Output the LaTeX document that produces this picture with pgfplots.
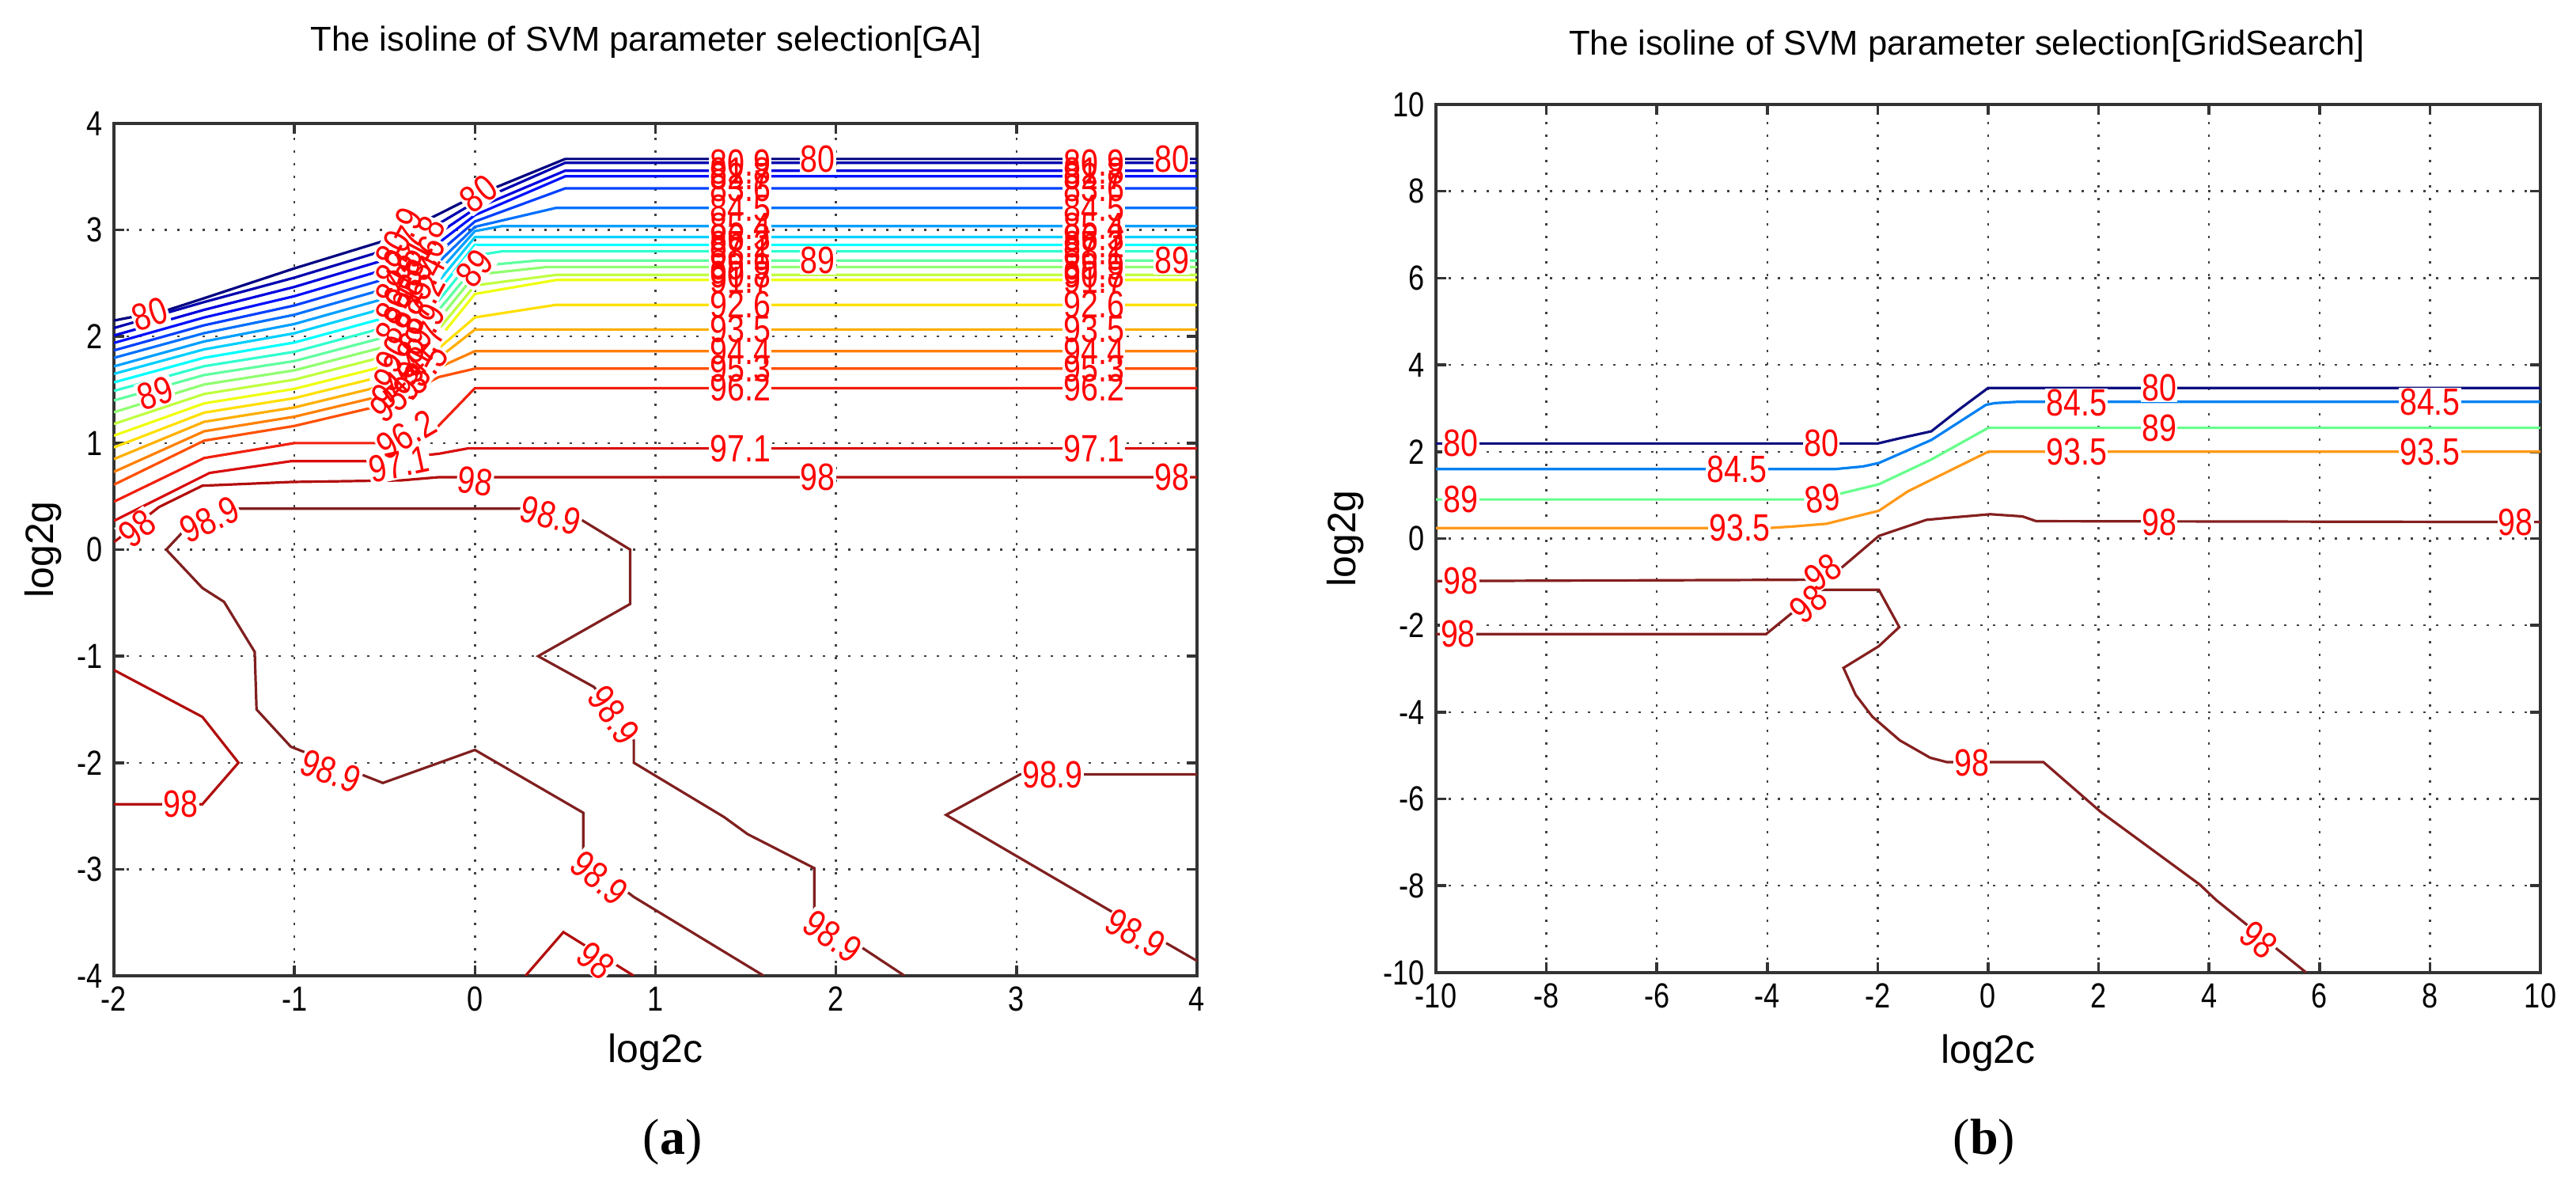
\documentclass[border=0pt]{standalone}
\usepackage{fontspec}
\setmainfont{Liberation Sans}
\newfontfamily\tickfont[FakeStretch=0.82]{Liberation Sans}
\newfontfamily\capfont{Liberation Serif}
\usepackage{pgfplots}
\usepackage{pgfplotstable}
\pgfplotsset{compat=1.18}

\definecolor{L0}{rgb}{0,0,0.5}
\definecolor{L1}{rgb}{0,0,0.6875}
\definecolor{L2}{rgb}{0,0,0.875}
\definecolor{L3}{rgb}{0,0.0625,1}
\definecolor{L4}{rgb}{0,0.25,1}
\definecolor{L5}{rgb}{0,0.4375,1}
\definecolor{L6}{rgb}{0,0.625,1}
\definecolor{L7}{rgb}{0,0.8125,1}
\definecolor{L8}{rgb}{0,1,1}
\definecolor{L9}{rgb}{0.1875,1,0.8125}
\definecolor{L10}{rgb}{0.375,1,0.625}
\definecolor{L11}{rgb}{0.5625,1,0.4375}
\definecolor{L12}{rgb}{0.75,1,0.25}
\definecolor{L13}{rgb}{0.9375,1,0.0625}
\definecolor{L14}{rgb}{1,0.875,0}
\definecolor{L15}{rgb}{1,0.6875,0}
\definecolor{L16}{rgb}{1,0.5,0}
\definecolor{L17}{rgb}{1,0.3125,0}
\definecolor{L18}{rgb}{0.95,0.12,0.05}
\definecolor{L19}{rgb}{0.85,0.05,0.05}
\definecolor{L20}{rgb}{0.7,0.05,0.05}
\definecolor{L21}{rgb}{0.5,0.12,0.12}
\definecolor{R0}{rgb}{0.05,0.05,0.5}
\definecolor{R1}{rgb}{0,0.5,0.95}
\definecolor{R2}{rgb}{0.4,1,0.55}
\definecolor{R3}{rgb}{1,0.6,0.1}
\definecolor{R4}{rgb}{0.52,0.12,0.12}
\definecolor{labred}{rgb}{1,0,0}

\newcommand\labfont{\fontsize{12}{12}\tickfont}

\pgfplotsset{
  myaxis/.style={
    scale only axis,
    axis line style={black!80, line width=0.9pt},
    every tick/.style={black!80, line width=0.9pt},
    tick align=inside,
    major tick length=3.3pt,
    grid=major,
    major grid style={black!75, line width=0.6pt, dash pattern=on 0.7pt off 3.3pt},
    ticklabel style={font=\fontsize{11}{11}\tickfont},
    /pgf/number format/assume math mode=true,
    xlabel style={font=\fontsize{12.5}{13}\selectfont, anchor=center},
    ylabel style={font=\fontsize{12.5}{13}\selectfont, anchor=center},
    every axis title shift=0pt,
    title style={font=\fontsize{10.9}{12}\selectfont, anchor=center},
  },
  cl/.style={line width=0.8pt},
  labfill/.style={draw=none, mark=none, forget plot, nodes near coords, point meta=explicit symbolic,
    visualization depends on={\thisrow{a}\as\rot},
    every node near coord/.append style={anchor=center, rotate=\rot, font=\labfont, fill=white, text=white, inner sep=0.3pt}},
  labtext/.style={draw=none, mark=none, forget plot, nodes near coords, point meta=explicit symbolic,
    visualization depends on={\thisrow{a}\as\rot},
    every node near coord/.append style={anchor=center, rotate=\rot, font=\labfont, text=labred, inner sep=0.3pt}},
}

\pgfplotstableread{
x y a l
1.47 3.631 0 80.9
1.47 3.557 0 81.8
1.47 3.504 0 82.7
1.47 3.391 0 83.6
1.47 3.208 0 84.5
1.47 3.037 0 85.4
1.47 2.934 0 86.3
1.47 2.861 0 87.2
1.47 2.800 0 88.1
1.47 2.653 0 89.9
1.47 2.579 0 90.8
1.47 2.531 0 91.7
1.47 2.298 0 92.6
1.47 2.066 0 93.5
1.47 1.863 0 94.4
1.47 1.699 0 95.3
1.47 1.516 0 96.2
1.47 0.950 0 97.1
3.43 3.631 0 80.9
3.43 3.557 0 81.8
3.43 3.504 0 82.7
3.43 3.391 0 83.6
3.43 3.208 0 84.5
3.43 3.037 0 85.4
3.43 2.934 0 86.3
3.43 2.861 0 87.2
3.43 2.800 0 88.1
3.43 2.653 0 89.9
3.43 2.579 0 90.8
3.43 2.531 0 91.7
3.43 2.298 0 92.6
3.43 2.066 0 93.5
3.43 1.863 0 94.4
3.43 1.699 0 95.3
3.43 1.516 0 96.2
3.43 0.950 0 97.1
1.90 3.667 0 80
3.86 3.667 0 80
1.90 2.714 0 89
3.86 2.714 0 89
1.90 0.680 0 98
3.86 0.680 0 98
-0.42 2.930 62 80.9
-0.30 2.845 62 81.8
-0.42 2.754 62 82.7
-0.30 2.664 62 83.6
-0.42 2.574 62 84.5
-0.30 2.483 62 85.4
-0.42 2.393 62 86.3
-0.30 2.303 62 87.2
-0.42 2.213 62 88.1
-0.30 2.030 62 89.9
-0.42 1.940 62 90.8
-0.30 1.850 62 91.7
-0.42 1.760 55 92.6
-0.30 1.670 50 93.5
-0.42 1.580 45 94.4
-0.42 1.450 40 95.3
-1.80 2.210 18 80
-1.77 1.470 18 89
0.02 3.340 38 80
0.00 2.640 50 89
-0.38 1.080 30 96.2
-0.42 0.800 12 97.1
-1.87 0.200 38 98
0.00 0.640 -8 98
-1.47 0.280 25 98.9
0.42 0.320 -15 98.9
0.77 -1.550 -55 98.9
-0.80 -2.080 -21 98.9
-1.63 -2.390 0 98
0.69 -3.080 -40 98.9
1.98 -3.630 -35 98.9
0.67 -3.860 -40 98
3.20 -2.110 0 98.9
3.66 -3.600 -30 98.9
}\labA

\pgfplotstableread{
x y a l
-9.55 2.19 0 80
-3.02 2.19 0 80
3.10 3.47 0 80
-4.55 1.60 0 84.5
1.60 3.13 0 84.5
8.00 3.15 0 84.5
-9.55 0.90 0 89
-3.00 0.92 9 89
3.10 2.55 0 89
-4.50 0.24 0 93.5
1.60 2.00 0 93.5
8.00 2.00 0 93.5
-9.55 -0.98 0 98
-3.00 -0.78 35 98
-3.26 -1.51 40 98
-9.60 -2.20 0 98
3.10 0.38 0 98
9.55 0.38 0 98
-0.30 -5.17 0 98
4.90 -9.25 -39 98
}\labB

\begin{document}
\begin{tikzpicture}
\useasboundingbox (0,0) rectangle (814pt,377.5pt);

% ---------------- (a) ----------------
\begin{axis}[myaxis,
  at={(36pt,69.25pt)}, anchor=south west,
  width=342.25pt, height=269.25pt,
  xmin=-2, xmax=4, ymin=-4, ymax=4,
  xtick={-2,-1,0,1,2,3,4}, ytick={-4,-3,-2,-1,0,1,2,3,4},
  xlabel={log2c}, ylabel={log2g},
  xlabel style={at={(axis description cs:0.5,-0.0901)}},
  ylabel style={at={(axis description cs:-0.065,0.5)}},
  title={The isoline of SVM parameter selection[GA]},
  title style={at={(axis description cs:0.4915,1.0956)}},
]
\addplot[cl,L0] coordinates {(-2,2.15) (-1.7,2.25) (-1.5,2.36) (-1,2.64) (-0.5,2.90) (-0.2,3.15) (0,3.32) (0.5,3.667) (4,3.667)};
\addplot[cl,L1] coordinates {(-2,2.08) (-1.5,2.324) (-1,2.553) (-0.5,2.809) (-0.2,3.06) (0,3.26) (0.5,3.631) (4,3.631)};
\addplot[cl,L2] coordinates {(-2,2.01) (-1.5,2.251) (-1,2.466) (-0.5,2.719) (-0.2,2.97) (0,3.20) (0.5,3.557) (4,3.557)};
\addplot[cl,L3] coordinates {(-2,1.94) (-1.5,2.179) (-1,2.379) (-0.5,2.628) (-0.2,2.88) (0,3.14) (0.5,3.504) (4,3.504)};
\addplot[cl,L4] coordinates {(-2,1.87) (-1.5,2.106) (-1,2.292) (-0.5,2.538) (-0.2,2.79) (0,3.08) (0.5,3.391) (4,3.391)};
\addplot[cl,L5] coordinates {(-2,1.80) (-1.5,2.032) (-1,2.205) (-0.5,2.447) (-0.2,2.70) (0,3.03) (0.45,3.208) (4,3.208)};
\addplot[cl,L6] coordinates {(-2,1.72) (-1.5,1.954) (-1,2.118) (-0.5,2.356) (-0.2,2.61) (0,2.99) (0.15,3.037) (4,3.037)};
\addplot[cl,L7] coordinates {(-2,1.65) (-1.5,1.880) (-1,2.031) (-0.5,2.266) (-0.2,2.52) (0,2.934) (4,2.934)};
\addplot[cl,L8] coordinates {(-2,1.57) (-1.5,1.801) (-1,1.944) (-0.5,2.175) (-0.2,2.43) (0,2.861) (4,2.861)};
\addplot[cl,L9] coordinates {(-2,1.49) (-1.5,1.722) (-1,1.857) (-0.5,2.085) (-0.2,2.34) (0,2.76) (0.15,2.80) (4,2.80)};
\addplot[cl,L10] coordinates {(-2,1.40) (-1.5,1.639) (-1,1.77) (-0.5,1.994) (-0.2,2.25) (0,2.66) (0.35,2.714) (4,2.714)};
\addplot[cl,L11] coordinates {(-2,1.29) (-1.5,1.550) (-1,1.683) (-0.5,1.903) (-0.2,2.16) (0,2.58) (0.4,2.653) (4,2.653)};
\addplot[cl,L12] coordinates {(-2,1.18) (-1.5,1.461) (-1,1.596) (-0.5,1.813) (-0.2,2.07) (0,2.48) (0.45,2.579) (4,2.579)};
\addplot[cl,L13] coordinates {(-2,1.07) (-1.5,1.373) (-1,1.509) (-0.5,1.722) (-0.2,1.98) (0,2.40) (0.45,2.531) (4,2.531)};
\addplot[cl,L14] coordinates {(-2,0.96) (-1.5,1.286) (-1,1.422) (-0.5,1.632) (-0.2,1.89) (0,2.18) (0.45,2.298) (4,2.298)};
\addplot[cl,L15] coordinates {(-2,0.85) (-1.5,1.200) (-1,1.335) (-0.5,1.541) (-0.2,1.80) (0,2.066) (4,2.066)};
\addplot[cl,L16] coordinates {(-2,0.73) (-1.5,1.111) (-1,1.248) (-0.5,1.45) (-0.2,1.71) (0,1.863) (4,1.863)};
\addplot[cl,L17] coordinates {(-2,0.61) (-1.5,1.023) (-1,1.161) (-0.5,1.36) (-0.2,1.62) (0,1.699) (4,1.699)};
\addplot[cl,L18] coordinates {(-2,0.45) (-1.5,0.86) (-1,1.0) (-0.55,1.0) (-0.22,1.13) (0,1.516) (4,1.516)};
\addplot[cl,L19] coordinates {(-2,0.27) (-1.47,0.72) (-1.02,0.83) (-0.6,0.83) (-0.2,0.9) (-0.04,0.95) (4,0.95)};
\addplot[cl,L20] coordinates {(-2,0.07) (-1.75,0.40) (-1.51,0.6) (-1.02,0.635) (-0.41,0.65) (-0.2,0.68) (4,0.68)};
\addplot[cl,L21] coordinates {(1.6,-4) (0.88,-3.26) (0.6,-2.9) (0.6,-2.47) (0,-1.88) (-0.51,-2.19) (-1.02,-1.85) (-1.21,-1.5) (-1.22,-0.96) (-1.39,-0.49) (-1.51,-0.36) (-1.71,0.0) (-1.6,0.2) (-1.32,0.385) (0.25,0.385) (0.58,0.29) (0.86,0.0) (0.86,-0.51) (0.35,-1.0) (0.66,-1.29) (0.88,-1.79) (0.88,-2.0) (1.38,-2.51) (1.51,-2.67) (1.88,-2.99) (1.88,-3.44) (2.38,-4.0)};
\addplot[cl,L20] coordinates {(-2,-1.13) (-1.51,-1.57) (-1.31,-2.0) (-1.51,-2.39) (-2,-2.39)};
\addplot[cl,L21] coordinates {(4,-2.11) (3.02,-2.11) (2.61,-2.49) (3.54,-3.41) (4,-3.86)};
\addplot[cl,L20] coordinates {(0.28,-4) (0.49,-3.59) (0.88,-4)};
\addplot[labfill] table[x=x,y=y,meta=l] {\labA};
\addplot[labtext] table[x=x,y=y,meta=l] {\labA};
\end{axis}

% ---------------- (b) ----------------
\begin{axis}[myaxis,
  at={(453.75pt,70.25pt)}, anchor=south west,
  width=349pt, height=274.25pt,
  xmin=-10, xmax=10, ymin=-10, ymax=10,
  xtick={-10,-8,...,10}, ytick={-10,-8,...,10},
  xlabel={log2c}, ylabel={log2g},
  xlabel style={at={(axis description cs:0.5,-0.093)}},
  ylabel style={at={(axis description cs:-0.0817,0.5)}},
  title={The isoline of SVM parameter selection[GridSearch]},
  title style={at={(axis description cs:0.4807,1.0675)}},
]
\addplot[cl,R0] coordinates {(-10,2.19) (-2,2.19) (-1.6,2.31) (-1.03,2.47) (-0.54,2.96) (0,3.47) (10,3.47)};
\addplot[cl,R1] coordinates {(-10,1.6) (-2.77,1.6) (-2.27,1.66) (-1.98,1.74) (-1.03,2.27) (-0.04,3.08) (0.12,3.12) (0.54,3.15) (10,3.15)};
\addplot[cl,R2] coordinates {(-10,0.9) (-3.35,0.9) (-2.69,1.03) (-1.98,1.25) (-1.03,1.82) (0,2.55) (10,2.55)};
\addplot[cl,R3] coordinates {(-10,0.24) (-4.0,0.24) (-3.51,0.28) (-2.93,0.34) (-1.98,0.64) (-1.45,1.09) (0,2.0) (10,2.0)};
\addplot[cl,R4] coordinates {(10,0.38) (0.87,0.40) (0.62,0.51) (0.04,0.56) (-0.70,0.48) (-1.12,0.43) (-1.98,0.06) (-2.69,-0.71) (-3.26,-0.95) (-10,-0.98)};
\addplot[cl,R4] coordinates {(-10,-2.2) (-4.02,-2.2) (-3.51,-1.67) (-3.02,-1.18) (-1.98,-1.18) (-1.61,-2.04) (-1.98,-2.48) (-2.62,-2.98) (-2.4,-3.6) (-2.1,-4.1) (-1.6,-4.65) (-1.05,-5.05) (-0.75,-5.15) (1.0,-5.15) (2.04,-6.3) (3.83,-7.97) (4.13,-8.33) (5.76,-10)};
\addplot[labfill] table[x=x,y=y,meta=l] {\labB};
\addplot[labtext] table[x=x,y=y,meta=l] {\labB};
\end{axis}

\node at (212.5pt,16.75pt) {\fontsize{16}{18}\capfont (\textbf{a})};
\node at (627pt,16.75pt) {\fontsize{16}{18}\capfont (\textbf{b})};
\end{tikzpicture}
\end{document}
